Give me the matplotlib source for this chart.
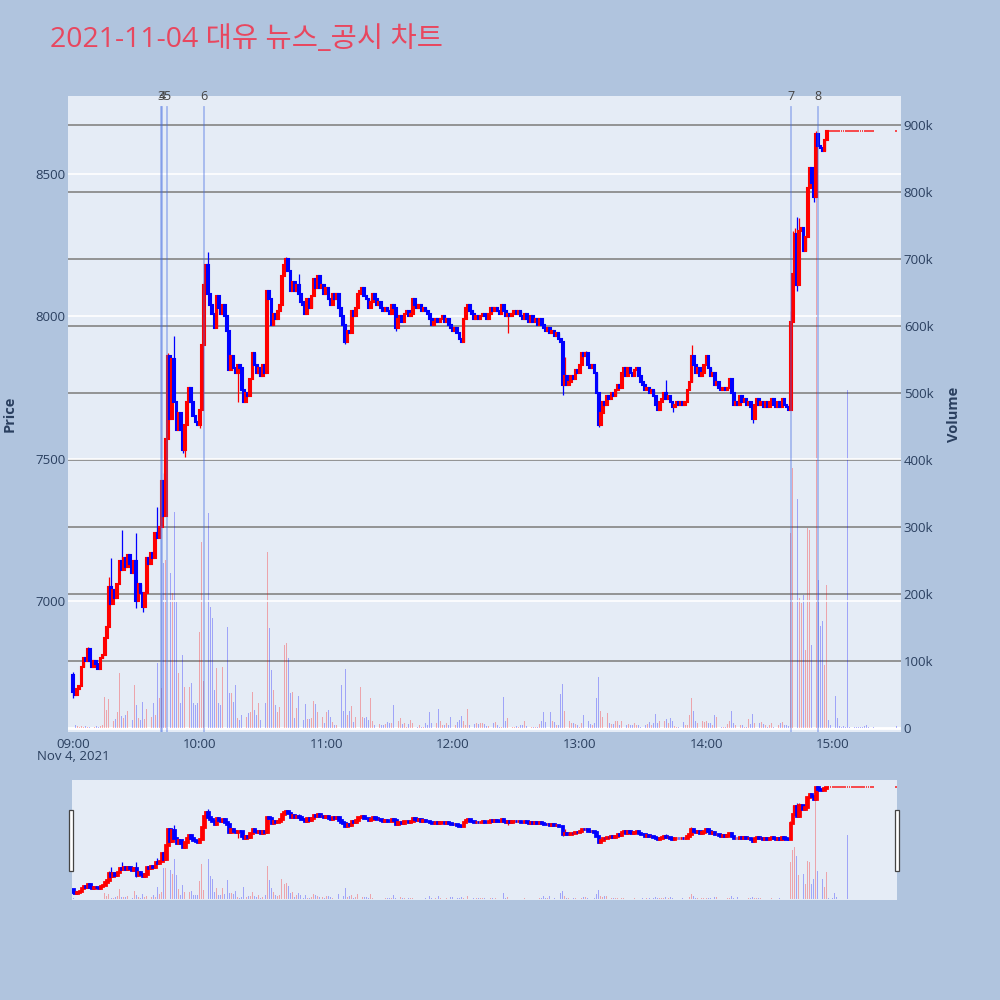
import numpy as np
import pandas as pd
import matplotlib
matplotlib.use("Agg")
import matplotlib.pyplot as plt
import matplotlib.dates as mdates
import matplotlib.transforms as mtrans
from matplotlib.ticker import FuncFormatter, FixedLocator
from matplotlib.patches import Rectangle

plt.rcParams['font.family'] = ['Open Sans', 'DejaVu Sans']

# ---------------- data ----------------
session_start = "2021-11-04 09:00"
minutes = list(range(0, 380)) + [390]          # minutes after 09:00
first_open = 6740
close = [
    6680, 6670, 6690, 6700, 6770, 6800, 6790, 6830, 6790, 6770,
    6790, 6780, 6760, 6800, 6810, 6870, 6910, 7050, 6990, 7040,
    7010, 7060, 7140, 7110, 7150, 7120, 7160, 7130, 7100, 7140,
    7000, 7060, 7030, 6980, 7030, 7150, 7130, 7170, 7150, 7240,
    7220, 7260, 7420, 7300, 7570, 7860, 7640, 7850, 7700, 7600,
    7660, 7600, 7530, 7620, 7700, 7750, 7700, 7650, 7630, 7620,
    7670, 7900, 8110, 8180, 8080, 8040, 8010, 7960, 8070, 8030,
    8010, 8040, 8000, 7950, 7810, 7860, 7820, 7800, 7830, 7820,
    7740, 7700, 7730, 7720, 7780, 7870, 7830, 7800, 7820, 7790,
    7830, 7800, 8090, 8060, 7970, 8010, 7990, 8020, 8040, 8140,
    8180, 8200, 8160, 8090, 8120, 8090, 8110, 8080, 8050, 8040,
    8010, 8060, 8030, 8070, 8130, 8100, 8140, 8100, 8110, 8080,
    8100, 8060, 8040, 8080, 8060, 8080, 8030, 8000, 7970, 7910,
    7950, 7940, 8020, 8000, 8030, 8080, 8090, 8100, 8070, 8060,
    8030, 8050, 8080, 8060, 8040, 8050, 8030, 8020, 8030, 8020,
    8010, 8040, 8030, 7960, 7990, 8000, 7980, 8010, 8020, 8000,
    8010, 8060, 8040, 8030, 8040, 8020, 8030, 8020, 8010, 7990,
    7970, 7980, 7990, 7980, 7990, 8000, 7980, 7990, 7970, 7960,
    7950, 7960, 7940, 7920, 7910, 7990, 8030, 8040, 8020, 8010,
    7990, 8000, 7990, 8000, 8010, 8000, 7990, 8010, 8030, 8020,
    8030, 8020, 8010, 8040, 8020, 8000, 8010, 8000, 8010, 8020,
    8010, 8020, 8000, 7990, 8010, 7990, 7980, 8000, 7980, 7990,
    7970, 7990, 7970, 7960, 7950, 7960, 7940, 7950, 7930, 7940,
    7920, 7910, 7760, 7790, 7760, 7770, 7790, 7780, 7810, 7800,
    7830, 7870, 7860, 7870, 7830, 7820, 7830, 7800, 7730, 7620,
    7660, 7700, 7690, 7720, 7710, 7730, 7720, 7740, 7760, 7750,
    7800, 7820, 7790, 7820, 7800, 7790, 7810, 7820, 7790, 7770,
    7760, 7740, 7750, 7730, 7740, 7720, 7690, 7670, 7700, 7710,
    7730, 7710, 7720, 7700, 7680, 7690, 7700, 7690, 7700, 7690,
    7700, 7740, 7770, 7860, 7830, 7800, 7820, 7790, 7800, 7830,
    7860, 7820, 7790, 7800, 7760, 7770, 7750, 7740, 7750, 7740,
    7750, 7780, 7730, 7690, 7700, 7690, 7720, 7700, 7710, 7690,
    7700, 7680, 7640, 7690, 7710, 7690, 7700, 7680, 7700, 7680,
    7700, 7710, 7690, 7680, 7700, 7680, 7710, 7690, 7680, 7670,
    7980, 8150, 8290, 8110, 8300, 8310, 8230, 8280, 8450, 8520,
    8470, 8420, 8640, 8600, 8590, 8580, 8620, 8650, 8650, 8650,
    8650, 8650, 8650, 8650, 8650, 8650, 8650, 8650, 8650, 8650,
    8650, 8650, 8650, 8650, 8650, 8650, 8650, 8650, 8650, 8650,
    8650,
]
# wick extremes beyond the candle body {minute: price}
wick_high = {0: 6750, 7: 6840, 17: 7085, 18: 7150, 23: 7250, 30: 7240, 40: 7330,
             43: 7450, 45: 7870, 48: 7930, 62: 8120, 64: 8225, 101: 8210, 107: 8150,
             233: 7857, 243: 7880, 281: 7775, 293: 7898, 340: 8020, 341: 8300,
             342: 8310, 343: 8350, 344: 8345, 352: 8650}
wick_low = {0: 6660, 30: 6975, 33: 6960, 52: 7520, 53: 7505, 60: 7607, 78: 7700,
            129: 7904, 153: 7950, 206: 7940, 232: 7723, 249: 7610, 284: 7663,
            322: 7625, 343: 8090, 351: 8400}
volume_k = [
    11, 4, 3, 2, 3, 2, 3, 2, 2, 3,
    2, 3, 2, 3, 4, 46, 27, 43, 12, 10,
    14, 24, 82, 18, 15, 20, 26, 22, 12, 64,
    34, 15, 12, 39, 14, 28, 30, 17, 37, 20,
    97, 45, 60, 246, 251, 322, 231, 201, 322, 188,
    82, 37, 109, 61, 97, 61, 67, 37, 35, 37,
    143, 278, 70, 205, 321, 181, 164, 57, 90, 37,
    34, 91, 39, 151, 52, 52, 39, 64, 15, 12,
    19, 94, 16, 22, 24, 54, 27, 19, 37, 12,
    15, 37, 263, 149, 87, 57, 34, 24, 31, 158,
    124, 127, 104, 52, 54, 15, 30, 48, 30, 12,
    36, 13, 13, 15, 40, 36, 24, 16, 16, 7,
    24, 27, 16, 9, 5, 5, 39, 64, 25, 88,
    19, 25, 33, 9, 16, 39, 61, 16, 15, 16,
    12, 45, 10, 5, 5, 6, 4, 5, 6, 9,
    7, 7, 34, 10, 11, 15, 6, 7, 2, 6,
    12, 7, 5, 2, 5, 2, 1, 7, 5, 24,
    8, 5, 7, 28, 10, 4, 5, 7, 4, 16,
    18, 5, 9, 12, 18, 10, 5, 28, 5, 2,
    6, 8, 6, 7, 7, 6, 3, 3, 7, 8,
    9, 4, 2, 2, 46, 10, 15, 4, 2, 2,
    3, 2, 5, 4, 10, 3, 2, 2, 2, 2,
    2, 6, 10, 24, 9, 13, 24, 10, 9, 4,
    4, 50, 66, 25, 12, 10, 8, 7, 6, 4,
    2, 7, 20, 20, 10, 6, 4, 7, 45, 76,
    26, 16, 22, 22, 7, 6, 6, 11, 10, 5,
    11, 11, 5, 6, 5, 5, 7, 5, 4, 2,
    7, 5, 6, 9, 5, 7, 21, 7, 10, 9,
    11, 14, 7, 15, 10, 3, 1, 2, 2, 9,
    5, 5, 20, 45, 25, 11, 7, 5, 11, 9,
    10, 7, 7, 5, 20, 17, 5, 2, 2, 2,
    6, 10, 25, 8, 5, 18, 4, 4, 2, 2,
    13, 6, 21, 7, 6, 7, 9, 6, 4, 2,
    4, 7, 2, 2, 5, 7, 9, 5, 4, 3,
    291, 388, 416, 342, 194, 187, 198, 117, 299, 295,
    124, 164, 885, 221, 152, 160, 94, 214, 12, 4,
    11, 48, 15, 3, 2, 3, 2, 505, 2, 1,
    2, 1, 2, 1, 2, 3, 5, 1, 2, 1,
    3,
]
news_labels = ["3", "4", "5", "6", "7", "8"]
news_times = ["09:41:55", "09:42:05", "09:44:25", "10:02:10", "14:40:10", "14:53:05"]
price_ticks = [7000, 7500, 8000, 8500]
volume_ticks_k = [0, 100, 200, 300, 400, 500, 600, 700, 800, 900]
title = "2021-11-04 대유 뉴스_공시 차트"

# ---------------- prepare ----------------
n = min(len(minutes), len(close), len(volume_k))
minutes = minutes[:n]; close = close[:n]; volume_k = volume_k[:n]
t0 = pd.Timestamp(session_start)
times = t0 + pd.to_timedelta(minutes, unit="min")
x = mdates.date2num(times.to_pydatetime())
c = np.array(close, dtype=float)
o = np.r_[first_open, c[:-1]]
hi = np.maximum(o, c)
lo = np.minimum(o, c)
for i, m in enumerate(minutes):
    if m in wick_high:
        hi[i] = max(hi[i], wick_high[m])
    if m in wick_low:
        lo[i] = min(lo[i], wick_low[m])
vol = np.array(volume_k, dtype=float) * 1000
RED, BLUE = "#FF0000", "#0000FF"
cand_col = np.array([RED if cc >= oo else BLUE for oo, cc in zip(o, c)])
vol_col = [RED if cc > oo else BLUE for oo, cc in zip(o, c)]
flat = (c == o)
day_min = 1.0 / 1440.0


def mx(m):
    return mdates.date2num((t0 + pd.Timedelta(minutes=m)).to_pydatetime())


news_x = [mdates.date2num(pd.Timestamp(f"2021-11-04 {t}").to_pydatetime()) for t in news_times]

FG = "#2a3f5f"
PRICE_LIM = (6540, 8774)
VOL_LIM = (-6000, 943000)


def draw_candles(ax, body_lw, wick_lw):
    nf = ~flat
    ax.vlines(x[nf], lo[nf], hi[nf], colors=cand_col[nf], lw=wick_lw, zorder=3)
    ax.bar(x[nf], (c - o)[nf], bottom=o[nf], width=0.8 * day_min, color=cand_col[nf],
           edgecolor=cand_col[nf], linewidth=body_lw, zorder=4)
    # flat (open == close) candles look like short dashes
    ax.hlines(c[flat], x[flat] - 0.42 * day_min, x[flat] + 0.42 * day_min,
              colors=cand_col[flat], lw=1.3, alpha=0.75, zorder=4)


fig = plt.figure(figsize=(10, 10), dpi=100, facecolor="#B0C4DE")

# ---------------- main panel ----------------
axv = fig.add_axes([0.068, 0.268, 0.833, 0.636])
axv.set_facecolor("#E5ECF6")
axp = axv.twinx()

for v in volume_ticks_k[1:]:
    axv.axhline(v * 1000, color="#8c8c8c", lw=1.3, zorder=1)
axv.axhline(0, color="white", lw=2, zorder=1)
axv.bar(x, vol, width=0.45 * day_min, color=vol_col, alpha=0.3, zorder=2, linewidth=0)
axv.set_ylim(*VOL_LIM)
axv.yaxis.tick_right()
axv.yaxis.set_major_locator(FixedLocator([v * 1000 for v in volume_ticks_k]))
axv.yaxis.set_major_formatter(FuncFormatter(lambda v, p: "0" if v == 0 else f"{int(round(v / 1000))}k"))
axv.tick_params(axis="y", length=0, pad=2, labelsize=9.5, labelcolor=FG)

for pt in price_ticks:
    axp.axhline(pt, color="white", lw=1.2, zorder=1)
draw_candles(axp, body_lw=1.5, wick_lw=0.9)
axp.set_ylim(*PRICE_LIM)
axp.yaxis.tick_left()
axp.yaxis.set_major_locator(FixedLocator(price_ticks))
axp.yaxis.set_major_formatter(FuncFormatter(lambda v, p: f"{int(v)}"))
axp.tick_params(axis="y", length=0, pad=2, labelsize=9.5, labelcolor=FG)

blend = mtrans.blended_transform_factory(axp.transData, axp.transAxes)
for lab, nx in zip(news_labels, news_x):
    axp.axvline(nx, ymin=0.0, ymax=0.983, color="royalblue", alpha=0.4, lw=1.3, zorder=5)
    axp.text(nx, 1.0, lab, transform=blend, ha="center", va="center",
             fontsize=9, color="#444444", zorder=6)

axv.set_xlim(mx(-2.37), mx(392.2))
axv.xaxis.set_major_locator(mdates.HourLocator())
axv.xaxis.set_major_formatter(mdates.DateFormatter("%H:%M"))
axv.tick_params(axis="x", length=0, pad=4, labelsize=9.5, labelcolor=FG)
for a in (axv, axp):
    for s in a.spines.values():
        s.set_visible(False)

fig.text(0.073, 1 - 0.757, "Nov 4, 2021", ha="center", va="center", fontsize=9.5, color=FG)
fig.text(0.010, 0.586, "Price", rotation=90, ha="center", va="center",
         fontsize=10.5, fontweight="bold", color=FG)
fig.text(0.954, 0.586, "Volume", rotation=90, ha="center", va="center",
         fontsize=10.5, fontweight="bold", color=FG)
fig.text(0.05, 0.96, title, ha="left", va="center", fontsize=20.5, color="#E8475F",
         family=["Open Sans", "Noto Sans CJK KR", "DejaVu Sans"])

# ---------------- range slider ----------------
axs = fig.add_axes([0.072, 0.100, 0.825, 0.120])
axs.set_facecolor("#E5ECF6")
axs2 = axs.twinx()
axs.bar(x, vol, width=0.45 * day_min, color=vol_col, alpha=0.3, linewidth=0)
axs.set_ylim(*VOL_LIM)
draw_candles(axs2, body_lw=2.0, wick_lw=0.9)
axs2.set_ylim(*PRICE_LIM)
axs.set_xlim(mx(-0.5), mx(390.5))
for a in (axs, axs2):
    a.set_xticks([]); a.set_yticks([])
    for s in a.spines.values():
        s.set_visible(False)
for hx in (0.069, 0.895):
    fig.patches.append(Rectangle((hx, 1 - 0.8705), 0.0042, 0.0605, transform=fig.transFigure,
                                 facecolor="white", edgecolor="#444444", lw=0.9))

fig.savefig("out.png", dpi=100, facecolor=fig.get_facecolor())
